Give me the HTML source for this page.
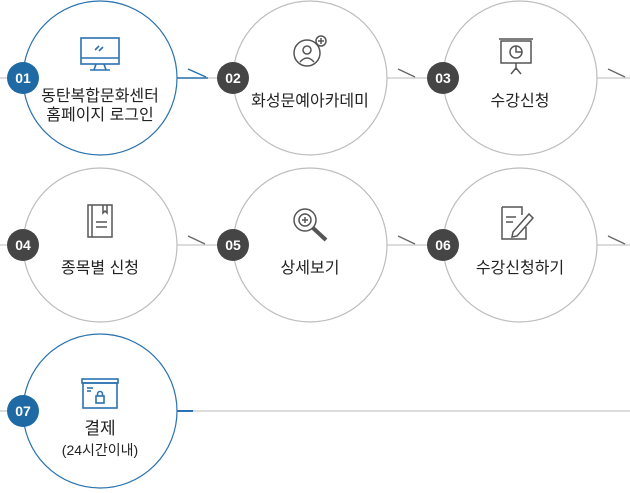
<!DOCTYPE html>
<html><head><meta charset="utf-8"><style>
body{margin:0;background:#fff}
svg{display:block}
text{font-family:"Liberation Sans","Noto Sans CJK KR",sans-serif}
</style></head><body>
<svg width="630" height="493" viewBox="0 0 630 493">
<g stroke="#c8c8c8" stroke-width="1.2">
<line x1="0" y1="78" x2="630" y2="78"/>
<line x1="0" y1="245" x2="630" y2="245"/>
<line x1="0" y1="411" x2="630" y2="411"/>
</g>
<line x1="177" y1="78" x2="208" y2="78" stroke="#2a72b0" stroke-width="1.5"/>
<line x1="188" y1="69" x2="206" y2="77" stroke="#2a72b0" stroke-width="1.5"/>
<line x1="177" y1="411" x2="193" y2="411" stroke="#2a72b0" stroke-width="2"/>
<g stroke="#666" stroke-width="1.3">
<line x1="398" y1="69" x2="415" y2="77"/><line x1="608" y1="69" x2="625" y2="77"/>
<line x1="188" y1="236" x2="205" y2="244"/><line x1="398" y1="236" x2="415" y2="244"/><line x1="608" y1="236" x2="625" y2="244"/>
</g>
<g fill="#fff" stroke-width="1.2">
<circle cx="100" cy="78" r="77" stroke="#2a72b0"/>
<circle cx="310" cy="78" r="77" stroke="#bdbdbd"/>
<circle cx="520" cy="78" r="77" stroke="#bdbdbd"/>
<circle cx="100" cy="245" r="77" stroke="#bdbdbd"/>
<circle cx="310" cy="245" r="77" stroke="#bdbdbd"/>
<circle cx="520" cy="245" r="77" stroke="#bdbdbd"/>
<circle cx="100" cy="411" r="77" stroke="#2a72b0"/>
</g>
<g font-size="14" font-weight="bold" fill="#fff" text-anchor="middle">
<circle cx="23" cy="78" r="16" fill="#1f6aa5"/><text x="23" y="83">01</text>
<circle cx="233" cy="78" r="16" fill="#454545"/><text x="233" y="83">02</text>
<circle cx="443" cy="78" r="16" fill="#454545"/><text x="443" y="83">03</text>
<circle cx="23" cy="245" r="16" fill="#454545"/><text x="23" y="250">04</text>
<circle cx="233" cy="245" r="16" fill="#454545"/><text x="233" y="250">05</text>
<circle cx="443" cy="245" r="16" fill="#454545"/><text x="443" y="250">06</text>
<circle cx="23" cy="411" r="16" fill="#1f6aa5"/><text x="23" y="416">07</text>
</g>
<g font-size="16" fill="#222" text-anchor="middle">
<text x="100" y="101">동탄복합문화센터</text>
<text x="100" y="120">홈페이지 로그인</text>
<text x="310" y="106">화성문예아카데미</text>
<text x="520" y="106">수강신청</text>
<text x="100" y="273">종목별 신청</text>
<text x="310" y="273">상세보기</text>
<text x="520" y="273">수강신청하기</text>
<text x="100" y="434" font-size="17">결제</text>
<text x="100" y="455" font-size="14">(24시간이내)</text>
</g>
<g fill="none" stroke="#2a72b0" stroke-width="1.6">
<rect x="81" y="38" width="38" height="26"/><line x1="81" y1="58" x2="119" y2="58"/>
<line x1="96" y1="64" x2="94" y2="70"/><line x1="104" y1="64" x2="106" y2="70"/><line x1="90" y1="70" x2="110" y2="70"/>
<line x1="95" y1="50" x2="99" y2="46"/><line x1="99" y1="51" x2="103" y2="47"/>
<rect x="82" y="379" width="36" height="4"/><rect x="83" y="383" width="34" height="25"/>
<line x1="87" y1="388" x2="93" y2="388"/><line x1="87" y1="391" x2="91" y2="391"/>
<rect x="96" y="396" width="8" height="7"/><path d="M97.5 396v-2a2.5 2.5 0 0 1 5 0v2"/>
</g>
<g fill="none" stroke="#555" stroke-width="1.5">
<circle cx="307" cy="53" r="13"/><circle cx="307" cy="50" r="4"/><path d="M300 62q7-8 14 0"/>
<circle cx="321" cy="41" r="5" fill="#fff"/><line x1="318" y1="41" x2="324" y2="41"/><line x1="321" y1="38" x2="321" y2="44"/>
<line x1="499" y1="39" x2="533" y2="39"/><rect x="501" y="41" width="30" height="22"/>
<circle cx="516" cy="52" r="6"/><path d="M516 46v6h6"/>
<line x1="516" y1="63" x2="516" y2="70"/><line x1="516" y1="68" x2="511" y2="74"/><line x1="516" y1="68" x2="521" y2="74"/>
<rect x="88" y="205" width="24" height="32"/><line x1="92" y1="205" x2="92" y2="237"/>
<path d="M103 205v8l2-2 2 2v-8"/><line x1="96" y1="222" x2="107" y2="222"/><line x1="96" y1="227" x2="107" y2="227"/>
<circle cx="305" cy="220" r="11"/><circle cx="305" cy="220" r="6"/><line x1="302" y1="220" x2="308" y2="220"/><line x1="305" y1="217" x2="305" y2="223"/>
<line x1="313" y1="228" x2="326" y2="240" stroke-width="4"/>
<path d="M502 207h20v8M502 207v32h24v-12"/><line x1="506" y1="217" x2="516" y2="217"/><line x1="506" y1="222" x2="513" y2="222"/>
<path d="M513 232l16-18 4 4-16 18-5 1z"/>
</g>
</svg>
</body></html>
